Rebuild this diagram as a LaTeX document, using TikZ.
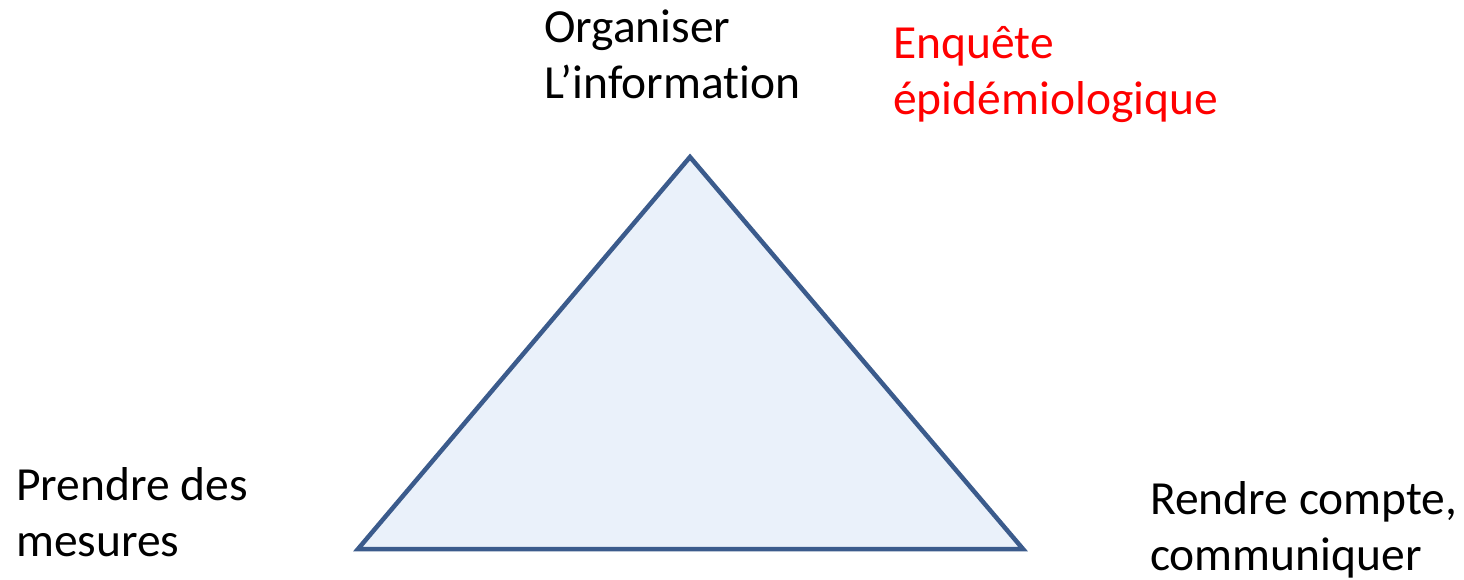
\documentclass[tikz,border=0pt]{standalone}
\usepackage{fontspec}
\setmainfont[Ligatures={NoCommon}]{Carlito}
\definecolor{triline}{HTML}{3B5B8C}
\definecolor{trifill}{HTML}{EAF1FA}
\definecolor{redtxt}{HTML}{FF0000}
\begin{document}
\begin{tikzpicture}[x=1pt,y=-1pt,
  lbl/.style={inner sep=0pt,anchor=base west,align=left,font=\fontsize{47.5}{56}\selectfont},
  tri/.style={draw=triline,fill=trifill,line width=4.5pt,line join=miter}]
\useasboundingbox (0,0) rectangle (1464,580);
\coordinate (A) at (690,157);
\coordinate (B) at (358,549);
\coordinate (C) at (1023,549);
\draw[tri] (A) -- (B) -- (C) -- cycle;
\node[lbl] (org) at (544,99) {Organiser\\L’information};
\node[lbl,text=redtxt] (enq) at (893,115) {Enquête\\épidémiologique};
\node[lbl] (pre) at (16,556) {Prendre des\\mesures};
\node[lbl] (ren) at (1150,570) {Rendre compte,\\communiquer};
\end{tikzpicture}
\end{document}
